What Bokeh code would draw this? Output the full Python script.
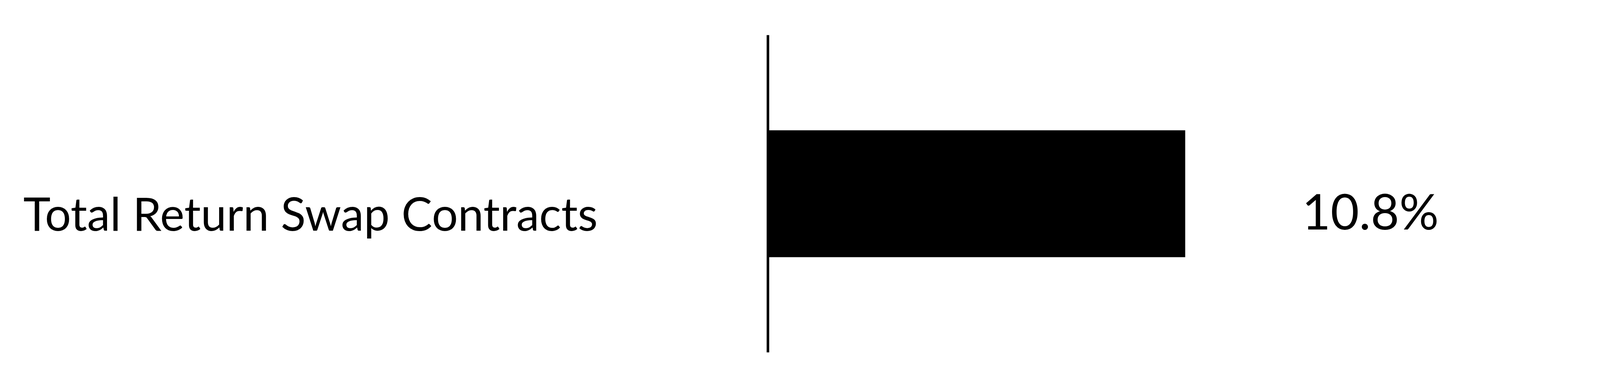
from bokeh.plotting import figure
from bokeh.models import Range1d, ColumnDataSource
from bokeh.core.properties import value
from bokeh.embed import file_html
from bokeh.resources import INLINE

categories = ["Total Return Swap Contracts"]
values = [10.8]
value_labels = ["10.8%"]

# layout scale (the captured area is about 4096 px wide, 1000 px tall)
SX, SY = 4096 / 5000, 0.99
W, H = 4096, 990

ypos = list(range(len(categories)))
src = ColumnDataSource(dict(
    y=ypos, v=values, cat=categories, lab=value_labels,
    zero=[0] * len(values),
    y0=[y - 0.5 for y in ypos], y1=[y + 0.5 for y in ypos],
))

FONT = "Lato"

p = figure(width=W, height=H,
           x_range=Range1d(-19.87, 21.54), y_range=Range1d(0.61, -0.61),
           x_axis_type=None, y_axis_type=None,
           output_backend="svg", toolbar_location=None, min_border=0)
p.outline_line_color = None
p.background_fill_color = "white"
p.border_fill_color = "white"

p.hbar(y="y", left="zero", right="v", height=0.4, source=src,
       fill_color="black", line_color=None)
p.segment(x0="zero", y0="y0", x1="zero", y1="y1", source=src,
          line_color="black", line_width=8 * SX)

p.text(x="zero", y="y", text="cat", source=src,
       text_font=value(FONT), text_font_size="118px", text_color="black",
       text_align="left", text_baseline="alphabetic",
       x_offset=-2327 * SX, y_offset=49 * SY)
p.text(x="v", y="y", text="lab", source=src,
       text_font=value(FONT), text_font_size="126px", text_color="black",
       text_align="left", text_baseline="alphabetic",
       x_offset=365 * SX, y_offset=43 * SY)

open("out.html", "w").write(file_html(p, INLINE))
